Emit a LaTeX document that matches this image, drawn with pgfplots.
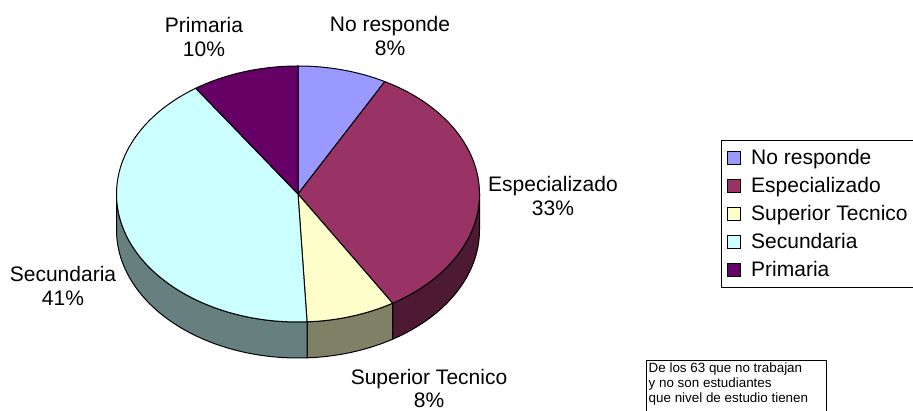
\documentclass[border=0pt]{standalone}
\usepackage{pgfplots}
\pgfplotsset{compat=1.18}
\usepackage{fontspec}
\setmainfont{Liberation Sans}
\definecolor{cNo}{RGB}{153,153,255}
\definecolor{cEsp}{RGB}{153,51,102}
\definecolor{cSup}{RGB}{255,255,204}
\definecolor{cSec}{RGB}{204,255,255}
\definecolor{cPri}{RGB}{102,0,102}
\definecolor{sEsp}{RGB}{77,25,51}
\definecolor{sSup}{RGB}{128,128,102}
\definecolor{sSec}{RGB}{102,128,128}
\newcommand\lab{\fontsize{21}{24}\selectfont}
% data: counts of the 63 people
\def\vNo{5}\def\vEsp{21}\def\vSup{5}\def\vSec{26}\def\vPri{6}
\pgfmathsetmacro\tot{\vNo+\vEsp+\vSup+\vSec+\vPri}
\pgfmathsetmacro\aA{90}
\pgfmathsetmacro\aB{\aA-360*\vNo/\tot}
\pgfmathsetmacro\aC{\aB-360*\vEsp/\tot}
\pgfmathsetmacro\aD{\aC-360*\vSup/\tot}
\pgfmathsetmacro\aE{\aD-360*\vSec/\tot}
\pgfmathsetmacro\aF{\aE-360*\vPri/\tot}
\tikzset{rr/.style={x radius=181.5pt, y radius=128pt}, pie/.style={line width=1pt, line join=round, draw=black}}
\begin{document}
\begin{tikzpicture}
\path[use as bounding box] (0,0) rectangle (913pt,411pt);
\begin{axis}[
  width=913pt, height=411pt, scale only axis,
  xmin=0, xmax=913, ymin=0, ymax=411,
  hide axis, clip=false,
  legend style={at={(0.7897,0.6594)}, anchor=north west, draw=black, fill=white,
    line width=0.8pt, inner xsep=6pt, inner ysep=5.5pt, font=\lab, row sep=4pt,
    nodes={inner xsep=0pt, inner ysep=0pt, text height=19pt, text depth=5pt},
    /tikz/every odd column/.style={column sep=10pt}},
  legend cell align=left,
  legend image code/.code={\draw[#1, line width=0.8pt] (0pt,-6.5pt) rectangle (13pt,6.5pt);},
]
\addlegendimage{fill=cNo, draw=black}\addlegendentry{No responde}
\addlegendimage{fill=cEsp, draw=black}\addlegendentry{Especializado}
\addlegendimage{fill=cSup, draw=black}\addlegendentry{Superior Tecnico\rule{10pt}{0pt}}
\addlegendimage{fill=cSec, draw=black}\addlegendentry{Secundaria}
\addlegendimage{fill=cPri, draw=black}\addlegendentry{Primaria}
% sides
\filldraw[pie, fill=sEsp] (axis cs:298,217) ++(\aC:181.5pt and 128pt) arc[start angle=\aC, end angle=0, rr] -- ++(0,-36pt) arc[start angle=0, end angle=\aC, rr] -- cycle;
\filldraw[pie, fill=sSup] (axis cs:298,217) ++(\aD:181.5pt and 128pt) arc[start angle=\aD, end angle=\aC, rr] -- ++(0,-36pt) arc[start angle=\aC, end angle=\aD, rr] -- cycle;
\filldraw[pie, fill=sSec] (axis cs:298,217) ++(-180:181.5pt and 128pt) arc[start angle=-180, end angle=\aD, rr] -- ++(0,-36pt) arc[start angle=\aD, end angle=-180, rr] -- cycle;
% top face
\filldraw[pie, fill=cNo] (axis cs:298,217) -- ++(\aA:181.5pt and 128pt) arc[start angle=\aA, end angle=\aB, rr] -- cycle;
\filldraw[pie, fill=cEsp] (axis cs:298,217) -- ++(\aB:181.5pt and 128pt) arc[start angle=\aB, end angle=\aC, rr] -- cycle;
\filldraw[pie, fill=cSup] (axis cs:298,217) -- ++(\aC:181.5pt and 128pt) arc[start angle=\aC, end angle=\aD, rr] -- cycle;
\filldraw[pie, fill=cSec] (axis cs:298,217) -- ++(\aD:181.5pt and 128pt) arc[start angle=\aD, end angle=\aE, rr] -- cycle;
\filldraw[pie, fill=cPri] (axis cs:298,217) -- ++(\aE:181.5pt and 128pt) arc[start angle=\aE, end angle=\aF, rr] -- cycle;
% labels
\node[align=center, font=\lab, inner sep=0pt] at (axis cs:204,374) {Primaria\\10\%};
\node[align=center, font=\lab, inner sep=0pt] at (axis cs:390,375) {No responde\\8\%};
\node[align=center, font=\lab, inner sep=0pt] at (axis cs:553,215) {Especializado\\33\%};
\node[align=center, font=\lab, inner sep=0pt] at (axis cs:63,125) {Secundaria\\41\%};
\node[align=center, font=\lab, inner sep=0pt] at (axis cs:429,22.5) {Superior Tecnico\\8\%};
% note box
\draw[line width=0.8pt] (axis cs:646,-10) rectangle (axis cs:826,51);
\node[anchor=north west, align=left, inner sep=0pt, font=\fontsize{13.4}{15}\selectfont] at (axis cs:648.5,48) {De los 63 que no trabajan\\y no son estudiantes\\que nivel de estudio tienen};
\end{axis}
\end{tikzpicture}
\end{document}
